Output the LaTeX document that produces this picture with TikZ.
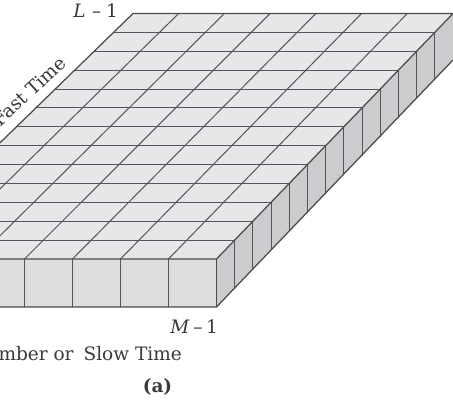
\documentclass[tikz,border=0pt]{standalone}
\usepackage{fontspec}
\setmainfont{DejaVu Serif}
\tikzset{
  gridline/.style={draw=gridgray,line width=1.02pt},
  edgeline/.style={draw=edgegray,line width=1.25pt,line join=round},
  lbl/.style={inner sep=0pt,text=textgray,font=\fontsize{18.5}{21}\selectfont},
}
\definecolor{gridgray}{HTML}{55565A}
\definecolor{edgegray}{HTML}{4A4B4D}
\definecolor{textgray}{HTML}{3A3A3C}
\definecolor{topfill}{HTML}{E6E7E8}
\definecolor{frontfill}{HTML}{DCDDDE}
\definecolor{sidefill}{HTML}{CBCCCD}
\begin{document}
\begin{tikzpicture}[x=1pt,y=-1pt]
\useasboundingbox (0,0) rectangle (453,404);
\clip (0,0) rectangle (453,404);
% corners of the block
\coordinate (FL) at (-119.5,259);
\coordinate (FR) at (216.5,259);
\coordinate (BR) at (453,13.5);
\coordinate (BL) at (133,13.5);
\coordinate (FLb) at (-119.5,307);
\coordinate (FRb) at (216.5,307);
\coordinate (BRb) at (453,60);
% faces
\fill[topfill] (FL) -- (FR) -- (BR) -- (BL) -- cycle;
\fill[frontfill] (FL) -- (FR) -- (FRb) -- (FLb) -- cycle;
\fill[sidefill] (FR) -- (BR) -- (BRb) -- (FRb) -- cycle;
% rows of the top face and verticals of the side face
\foreach \k in {1,...,12}{
  \pgfmathsetmacro{\yy}{259-\k*18.885}
  \pgfmathsetmacro{\xr}{216.5+\k*18.19}
  \pgfmathsetmacro{\xl}{-119.5+\k*19.42}
  \draw[gridline] (\xl,\yy) -- (\xr,\yy);
  \draw[gridline] (\xr,\yy) -- (\xr,\yy+48);
}
% columns of the top face and verticals of the front face
\foreach \i in {1,...,6}{
  \pgfmathsetmacro{\xf}{216.5-\i*48}
  \pgfmathsetmacro{\xb}{453-\i*45.72}
  \draw[gridline] (\xf,259) -- (\xb,13.5);
  \draw[gridline] (\xf,259) -- (\xf,307);
}
% outline
\draw[edgeline] (BL) -- (BR) -- (FR) -- (FL);
\draw[edgeline] (FL) -- (BL);
\draw[edgeline] (FLb) -- (FRb) -- (BRb);
\draw[edgeline] (FR) -- (FRb);
% labels
\node[lbl,anchor=base east] (lab) at (118,18) {\textit{L}\hspace{6pt}–\hspace{5pt}1};
\node[lbl,anchor=base east] (mab) at (218,333) {\textit{M}\hspace{3.5pt}–\hspace{3.5pt}1};
\node[lbl,anchor=base,rotate=43] (fast) at (34,96) {Fast Time};
\node[lbl,anchor=base east] (slow) at (182,360) {Number or\hspace{10pt}Slow Time};
\node[lbl,anchor=base] (cap) at (157.5,392) {\textbf{(a)}};
\end{tikzpicture}
\end{document}
